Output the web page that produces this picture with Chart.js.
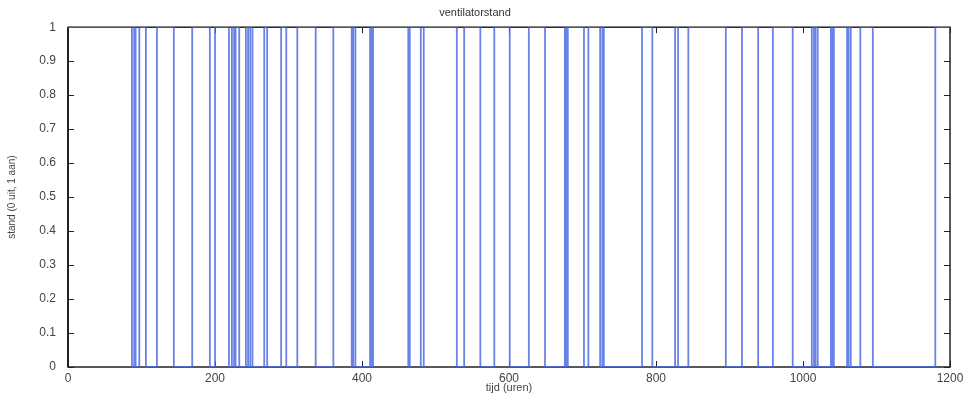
<!DOCTYPE html>
<html>
<head>
<meta charset="utf-8">
<script src="https://cdn.jsdelivr.net/npm/chart.js@4"></script>
<style>
  html, body { margin: 0; padding: 0; background: #fff; }
  #wrap { width: 974px; height: 395px; }
</style>
</head>
<body>
<div id="wrap"><canvas id="chart" width="974" height="395"></canvas></div>
<script>
// switch moments (hours) of the fan
const tijd = [0, 87, 90, 92, 97, 106, 121, 144, 169, 193, 200,
  219, 223, 226, 228, 233, 242, 245, 248, 251, 267,
  271, 290, 297, 312, 337, 361, 386, 388, 391, 411,
  413, 415, 463, 465, 480, 484, 529, 539, 561, 580,
  601, 627, 649, 676, 678, 680, 702, 708, 724, 727,
  729, 781, 795, 826, 830, 844, 895, 917, 939, 959,
  986, 1012, 1015, 1017, 1020, 1038, 1040, 1042, 1060, 1062,
  1065, 1078, 1095, 1180, 1200];
// fan state from that moment on (0 off, 1 on)
const stand = [1, 0, 1, 0, 1, 0, 1, 0, 1, 0, 1,
  0, 1, 0, 1, 0, 1, 0, 1, 0, 1,
  0, 1, 0, 1, 0, 1, 0, 1, 0, 1,
  0, 1, 0, 1, 0, 1, 0, 1, 0, 1,
  0, 1, 0, 1, 0, 1, 0, 1, 0, 1,
  0, 1, 0, 1, 0, 1, 0, 1, 0, 1,
  0, 1, 0, 1, 0, 1, 0, 1, 0, 1,
  0, 1, 0, 1, 1];
const xTicks = [0, 200, 400, 600, 800, 1000, 1200];
const yTicks = [0, 0.1, 0.2, 0.3, 0.4, 0.5, 0.6, 0.7, 0.8, 0.9, 1];

const FONT = '"Liberation Sans", Arial, sans-serif';

// matlab like box with inward ticks
const boxPlugin = {
  id: 'box',
  beforeDatasetsDraw(chart) {
    const { ctx, chartArea: a, scales } = chart;
    ctx.save();
    ctx.strokeStyle = '#222';
    ctx.lineWidth = 1;
    ctx.beginPath();
    yTicks.forEach(v => {
      const y = Math.round(scales.y.getPixelForValue(v)) + 0.5;
      ctx.moveTo(a.left, y); ctx.lineTo(a.left + 6, y);
      ctx.moveTo(a.right, y); ctx.lineTo(a.right - 6, y);
    });
    xTicks.forEach(v => {
      const x = Math.round(scales.x.getPixelForValue(v)) + 0.5;
      ctx.moveTo(x, a.bottom); ctx.lineTo(x, a.bottom - 6);
      ctx.moveTo(x, a.top); ctx.lineTo(x, a.top + 6);
    });
    ctx.stroke();
    ctx.lineWidth = 1.5;
    ctx.strokeRect(a.left, a.top, a.right - a.left, a.bottom - a.top);
    ctx.lineWidth = 2;
    ctx.beginPath();
    ctx.moveTo(a.left, a.top); ctx.lineTo(a.left, a.bottom);
    ctx.stroke();
    ctx.restore();
  }
};

new Chart(document.getElementById('chart'), {
  type: 'line',
  data: {
    datasets: [{
      data: tijd.map((t, i) => ({ x: t, y: stand[i] })),
      stepped: 'before',
      borderColor: 'rgba(78, 108, 226, 0.85)',
      borderWidth: 1.8,
      pointRadius: 0,
      fill: false
    }]
  },
  options: {
    responsive: false,
    animation: false,
    layout: { padding: { left: 0, right: 24, top: 0, bottom: 0 } },
    plugins: {
      legend: { display: false },
      tooltip: { enabled: false },
      title: {
        display: true,
        text: 'ventilatorstand',
        color: '#333',
        font: { family: FONT, size: 11, weight: 'normal' },
        padding: { top: 6, bottom: 8 }
      }
    },
    scales: {
      x: {
        type: 'linear',
        min: 0, max: 1200,
        afterBuildTicks(s) { s.ticks = xTicks.map(v => ({ value: v })); },
        afterFit(s) { s.height = 28; },
        grid: { display: false, drawTicks: false },
        border: { display: false },
        ticks: { color: '#444', font: { family: FONT, size: 12 }, padding: 4, maxRotation: 0, callback: v => String(v) },
        title: { display: true, text: 'tijd (uren)', color: '#444', font: { family: FONT, size: 11 }, padding: { top: 0, bottom: 0 } }
      },
      y: {
        min: 0, max: 1,
        afterBuildTicks(s) { s.ticks = yTicks.map(v => ({ value: v })); },
        afterFit(s) { s.width = 68; },
        grid: { display: false, drawTicks: false },
        border: { display: false },
        ticks: { color: '#444', font: { family: FONT, size: 12 }, padding: 12, callback: v => String(Math.round(v * 10) / 10) },
        title: { display: true, text: 'stand (0 uit, 1 aan)', color: '#444', font: { family: FONT, size: 10 }, padding: { top: 6, bottom: 0 } }
      }
    }
  },
  plugins: [boxPlugin]
});
</script>
</body>
</html>
